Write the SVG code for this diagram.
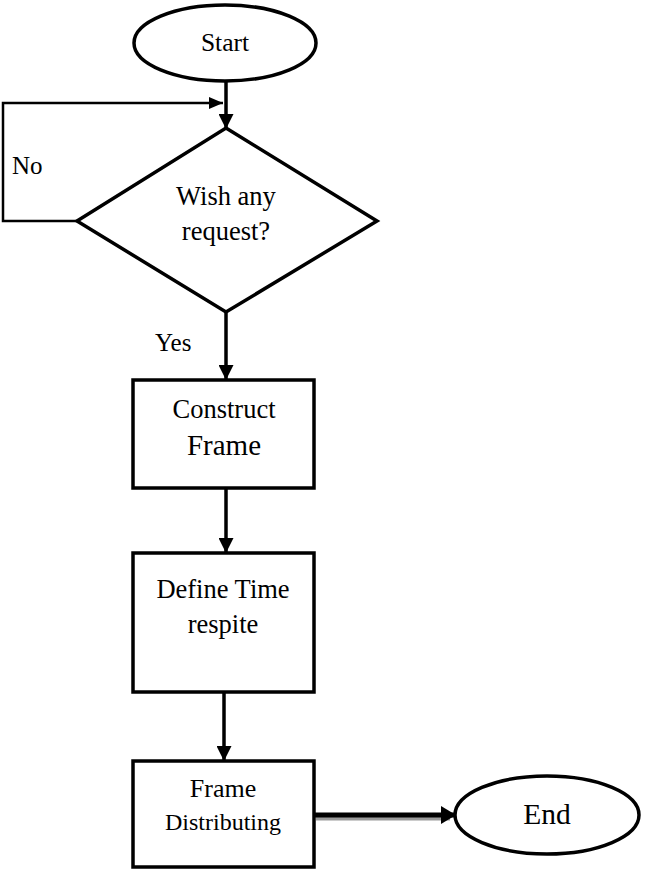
<svg xmlns="http://www.w3.org/2000/svg" width="645" height="872" viewBox="0 0 645 872">
  <style>
    .shape { fill: #ffffff; stroke: #000000; stroke-width: 3.5; }
    .link { fill: none; stroke: #000000; stroke-width: 3.5; }
    .thin { fill: none; stroke: #000000; stroke-width: 2.5; }
    .label { font-family: "Liberation Serif", "Times New Roman", serif; font-size: 25.5px; fill: #000000; text-anchor: middle; }
    .plain { font-family: "Liberation Serif", "Times New Roman", serif; font-size: 25px; fill: #000000; }
  </style>
  <defs>
    <marker id="arrow" markerWidth="15" markerHeight="15" refX="15" refY="7.5" orient="auto" markerUnits="userSpaceOnUse">
      <path d="M0,0 L15,7.5 L0,15 Z" fill="#000000"/>
    </marker>
    <marker id="arrow-thin" markerWidth="14" markerHeight="12" refX="14" refY="6" orient="auto" markerUnits="userSpaceOnUse">
      <path d="M0,0 L14,6 L0,12 Z" fill="#000000"/>
    </marker>
    <marker id="arrow-wide" markerWidth="15" markerHeight="18" refX="15" refY="9" orient="auto" markerUnits="userSpaceOnUse">
      <path d="M0,0 L15,9 L0,18 Z" fill="#000000"/>
    </marker>
  </defs>

  <rect width="645" height="872" fill="#ffffff"/>

  <g id="connectors">
    <!-- start to decision -->
    <line class="link" x1="226" y1="82" x2="226" y2="129" marker-end="url(#arrow)"/>
    <!-- "No" loop back above the decision -->
    <polyline class="thin" points="77,221 3,221 3,103 223,103" marker-end="url(#arrow-thin)"/>
    <!-- decision to construct -->
    <line class="link" x1="226" y1="312" x2="226" y2="380" marker-end="url(#arrow)"/>
    <!-- construct to define time -->
    <line class="link" x1="226" y1="488" x2="226" y2="553" marker-end="url(#arrow)"/>
    <!-- define time to distributing -->
    <line class="link" x1="224" y1="692" x2="224" y2="761" marker-end="url(#arrow)"/>
    <!-- distributing to end, with soft shadow -->
    <line x1="316" y1="818" x2="450" y2="818" stroke="#9a9a9a" stroke-width="5"/>
    <line x1="314" y1="815" x2="456" y2="815" stroke="#000000" stroke-width="5" marker-end="url(#arrow-wide)"/>
  </g>

  <g id="start">
    <ellipse class="shape" cx="225" cy="43" rx="91" ry="38"/>
    <text class="label" x="225" y="51">Start</text>
  </g>

  <g id="decision">
    <polygon class="shape" points="226,128 377,221 226,312 77,221"/>
    <text class="label" x="226" y="205" style="font-size:26.5px">Wish any</text>
    <text class="label" x="226" y="240" style="font-size:26.5px">request?</text>
  </g>

  <g id="label-no">
    <text class="plain" x="12" y="174">No</text>
  </g>

  <g id="label-yes">
    <text class="plain" x="155" y="351">Yes</text>
  </g>

  <g id="construct">
    <rect class="shape" x="133" y="380" width="181" height="108"/>
    <text class="label" x="224" y="418" style="font-size:26.5px">Construct</text>
    <text class="label" x="224" y="455" style="font-size:29px">Frame</text>
  </g>

  <g id="define-time">
    <rect class="shape" x="133" y="553" width="181" height="139"/>
    <text class="label" x="223" y="598" style="font-size:26.5px">Define Time</text>
    <text class="label" x="223" y="633" style="font-size:26.5px">respite</text>
  </g>

  <g id="distributing">
    <rect class="shape" x="133" y="761" width="181" height="106"/>
    <text class="label" x="223" y="797" style="font-size:26px">Frame</text>
    <text class="label" x="223" y="830" style="font-size:24px">Distributing</text>
  </g>

  <g id="end">
    <ellipse class="shape" cx="547" cy="815" rx="92" ry="39"/>
    <text class="label" x="547" y="824" style="font-size:29.5px">End</text>
  </g>
</svg>
